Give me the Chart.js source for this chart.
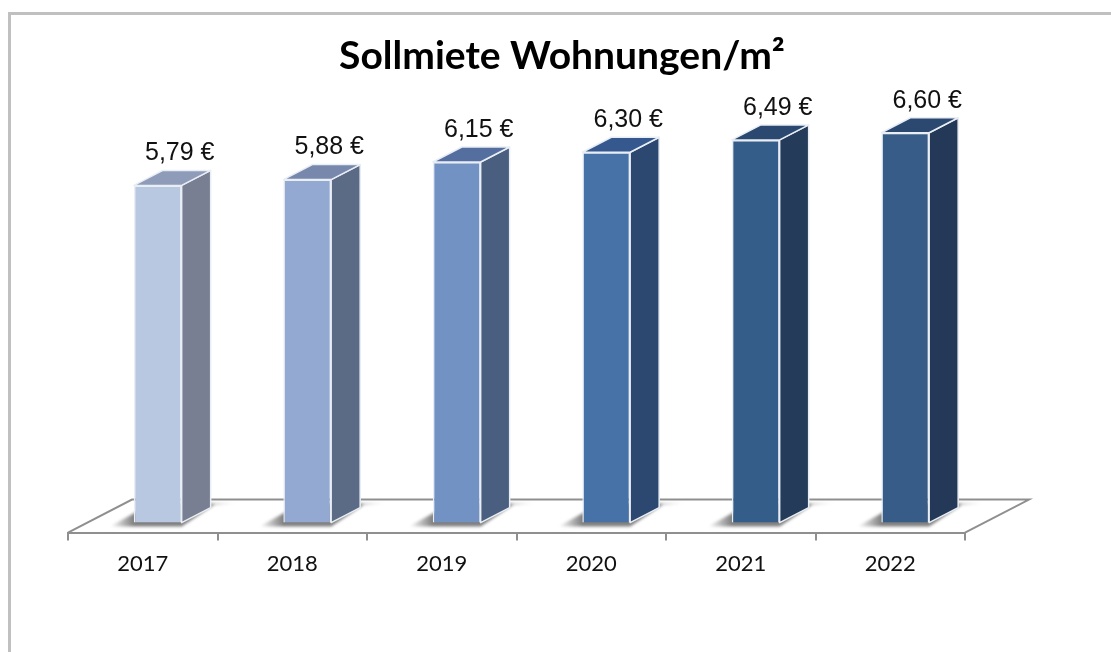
<!DOCTYPE html>
<html><head><meta charset="utf-8">
<style>
html,body{margin:0;padding:0;background:#fff;width:1111px;height:652px;overflow:hidden}
#frame{position:absolute;left:8px;top:12px;right:-4px;bottom:-4px;border-left:3px solid #c0c0c0;border-top:3px solid #c0c0c0}
canvas{position:absolute;left:0;top:0}
</style>
<script src="https://cdn.jsdelivr.net/npm/chart.js@4"></script>
</head><body>
<div id="frame"></div>
<canvas id="c" width="1111" height="652"></canvas>
<script>
const categories = ['2017','2018','2019','2020','2021','2022'];
const rentValues = [5.79,5.88,6.15,6.30,6.49,6.60];
const frontColors = ['#b9c8e1','#94a9d1','#7292c4','#4672a8','#355d8a','#375c88'];
const sideColors  = ['#797f92','#5b6a85','#4a5e80','#2c4870','#243c5a','#243957'];
const topColors   = ['#8e9cba','#7788ac','#546f9f','#35588e','#2a4870','#2a4870'];
const titleText = 'Sollmiete Wohnungen/m²';

const fmt = v => v.toFixed(2).replace('.', ',') + ' €';
const FLOOR = {dx:64, dy:-33};   // full floor depth
const SHIFT = {dx:15, dy:-10};   // bars stand part-way into the floor
const BAR = {dx:29, dy:-15};     // depth of one bar

class Bar3D extends Chart.BarController {
  draw() {
    const ctx = this.chart.ctx, els = this.getMeta().data;
    ctx.save();
    ctx.translate(SHIFT.dx, SHIFT.dy);
    els.forEach((el) => {
      const p = el.getProps(['x','y','base','width'], true);
      const l = p.x - p.width/2, r = p.x + p.width/2;
      const g = ctx.createLinearGradient(l-24, 0, r+BAR.dx+26, 0);
      g.addColorStop(0,'rgba(95,95,95,0)');
      g.addColorStop(0.19,'rgba(95,95,95,.8)');
      g.addColorStop(0.79,'rgba(95,95,95,.8)');
      g.addColorStop(1,'rgba(95,95,95,0)');
      ctx.save();
      ctx.filter = 'blur(1.5px)';
      ctx.fillStyle = g;
      ctx.beginPath();
      ctx.moveTo(l-24, p.base+4);
      ctx.lineTo(r, p.base+4);
      ctx.lineTo(r+BAR.dx+4, p.base+BAR.dy-3);
      ctx.lineTo(r+BAR.dx+28, p.base+BAR.dy-4);
      ctx.lineTo(l+18, p.base+BAR.dy-4);
      ctx.closePath();
      ctx.fill();
      ctx.restore();
    });
    els.forEach((el,i) => {
      const p = el.getProps(['x','y','base','width'], true);
      const l = p.x - p.width/2, r = p.x + p.width/2;
      ctx.lineWidth = 1.5;
      ctx.lineJoin = 'round';
      ctx.strokeStyle = '#e9eef5';
      ctx.fillStyle = sideColors[i];
      ctx.beginPath();
      ctx.moveTo(r,p.y); ctx.lineTo(r+BAR.dx,p.y+BAR.dy);
      ctx.lineTo(r+BAR.dx,p.base+BAR.dy); ctx.lineTo(r,p.base);
      ctx.closePath(); ctx.fill(); ctx.stroke();
      ctx.fillStyle = topColors[i];
      ctx.beginPath();
      ctx.moveTo(l,p.y); ctx.lineTo(r,p.y);
      ctx.lineTo(r+BAR.dx,p.y+BAR.dy); ctx.lineTo(l+BAR.dx,p.y+BAR.dy);
      ctx.closePath(); ctx.fill(); ctx.stroke();
    });
    super.draw();
    ctx.fillStyle = '#111';
    ctx.font = '25px "Liberation Sans"';
    ctx.textAlign = 'center';
    ctx.textBaseline = 'middle';
    els.forEach((el,i) => {
      const p = el.getProps(['x','y'], true);
      ctx.fillText(fmt(rentValues[i]), p.x + 22, p.y - 32);
    });
    ctx.restore();
  }
}
Bar3D.id = 'bar3d';
Bar3D.defaults = Chart.BarController.defaults;
Chart.register(Bar3D);

const floorPlugin = {
  id:'floor',
  beforeDatasetsDraw(chart){
    const {ctx, chartArea:a} = chart;
    ctx.save();
    ctx.strokeStyle = '#8f8f8f';
    ctx.lineWidth = 2;
    ctx.lineJoin = 'miter';
    ctx.beginPath();
    ctx.moveTo(a.left, a.bottom);
    ctx.lineTo(a.left+FLOOR.dx, a.bottom+FLOOR.dy);
    ctx.lineTo(a.right+FLOOR.dx, a.bottom+FLOOR.dy);
    ctx.lineTo(a.right, a.bottom);
    ctx.stroke();
    ctx.restore();
  }
};

new Chart(document.getElementById('c'), {
  type:'bar3d',
  data:{labels:categories, datasets:[{
    data:rentValues,
    base:0.6,
    backgroundColor:frontColors,
    borderColor:'#e9eef5',
    borderWidth:1.5,
    barPercentage:0.32,
    categoryPercentage:1,
    clip:false
  }]},
  options:{
    responsive:false, animation:false,
    layout:{padding:{left:13,right:0,top:0,bottom:65}},
    plugins:{
      legend:{display:false}, tooltip:{enabled:false},
      title:{display:true,text:titleText,color:'#000',
        font:{family:'Lato',weight:'bold',size:39},
        padding:{top:33,bottom:37}}
    },
    scales:{
      x:{
        grid:{display:true,drawOnChartArea:false,drawTicks:true,tickLength:8,color:'#8f8f8f',lineWidth:2,offset:true},
        border:{display:true,color:'#8f8f8f',width:2},
        ticks:{color:'#111',font:{family:'Lato',size:22},padding:10,maxRotation:0}
      },
      y:{
        min:0.6,max:7.0,
        afterFit(s){s.width=55},
        grid:{display:false},border:{display:false},
        ticks:{display:false}
      },
      y1:{
        position:'right',min:0.6,max:7.0,
        afterFit(s){s.width=146},
        grid:{display:false},border:{display:false},
        ticks:{display:false}
      }
    }
  },
  plugins:[floorPlugin]
});
</script>
</body></html>
